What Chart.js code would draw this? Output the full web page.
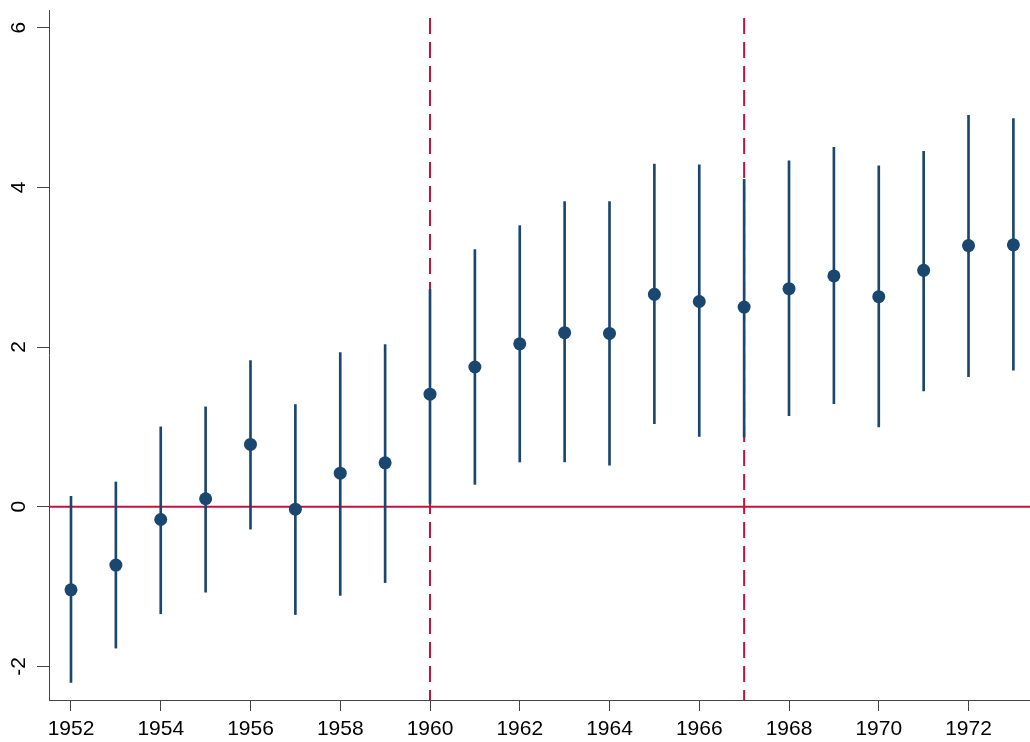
<!DOCTYPE html>
<html>
<head>
<meta charset="utf-8">
<script src="https://cdn.jsdelivr.net/npm/chart.js@4/dist/chart.umd.min.js"></script>
<style>
  html, body { margin: 0; padding: 0; background: #ffffff; }
  #wrap { width: 1030px; height: 742px; }
</style>
</head>
<body>
<div id="wrap"><canvas id="chart"></canvas></div>
<script>
// Event-study style estimates with confidence intervals

const years = [1952, 1953, 1954, 1955, 1956, 1957, 1958, 1959, 1960, 1961, 1962,
               1963, 1964, 1965, 1966, 1967, 1968, 1969, 1970, 1971, 1972, 1973];
const estimates = [-1.04, -0.73, -0.16, 0.10, 0.78, -0.03, 0.42, 0.55, 1.41, 1.75, 2.04,
                   2.18, 2.17, 2.66, 2.57, 2.50, 2.73, 2.89, 2.63, 2.96, 3.27, 3.28];
const ciLow = [-2.20, -1.77, -1.34, -1.07, -0.28, -1.35, -1.11, -0.95, 0.04, 0.28, 0.56,
               0.56, 0.52, 1.04, 0.88, 0.87, 1.14, 1.29, 1.00, 1.45, 1.63, 1.71];
const ciHigh = [0.13, 0.31, 1.00, 1.25, 1.83, 1.28, 1.93, 2.03, 2.72, 3.22, 3.52,
                3.82, 3.82, 4.29, 4.28, 4.10, 4.33, 4.50, 4.27, 4.45, 4.90, 4.86];

const xTicks = [1952, 1954, 1956, 1958, 1960, 1962, 1964, 1966, 1968, 1970, 1972];
const yTicks = [-2, 0, 2, 4, 6];
const eventYears = [1960, 1967];

const xMin = 1951.51, xMax = 1973.37;
const yMin = -2.42, yMax = 6.22;

const navy = '#1a476f';
const red = '#c8103e';
const axisColor = '#444444';
const fontFamily = "'Liberation Sans', Arial, sans-serif";

// Reference lines
const refDatasets = [{
    type: 'line',
    data: [{ x: xMin, y: 0 }, { x: xMax, y: 0 }],
    borderColor: red,
    borderWidth: 2,
    pointRadius: 0,
    order: 3
}];
eventYears.forEach(yr => {
    refDatasets.push({
        type: 'line',
        data: [{ x: yr, y: yMax }, { x: yr, y: yMin }],
        borderColor: red,
        borderWidth: 2,
        borderDash: [16, 8],
        borderDashOffset: 16,
        pointRadius: 0,
        order: 3
    });
});

const ctx = document.getElementById('chart');
new Chart(ctx, {
    type: 'scatter',
    data: {
        datasets: [
            {
                type: 'scatter',
                data: years.map((yr, i) => ({ x: yr, y: estimates[i] })),
                backgroundColor: navy,
                borderWidth: 0,
                pointRadius: 6.5,
                order: 1
            },
            {
                type: 'bar',
                data: years.map((yr, i) => ({ x: yr, y: [ciLow[i], ciHigh[i]] })),
                backgroundColor: navy,
                barThickness: 2,
                grouped: false,
                borderWidth: 0,
                order: 2
            },
            ...refDatasets
        ]
    },
    options: {
        responsive: true,
        maintainAspectRatio: false,
        animation: false,
        layout: {
            autoPadding: false,
            padding: { top: 10, right: 0, bottom: 0, left: 0 }
        },
        plugins: {
            legend: { display: false },
            tooltip: { enabled: false },
            title: { display: false }
        },
        scales: {
            x: {
                type: 'linear',
                min: xMin,
                max: xMax,
                offset: false,
                afterBuildTicks: scale => {
                    scale.ticks = xTicks.map(v => ({ value: v }));
                },
                afterFit: scale => {
                    scale.height = 42;
                    scale.paddingLeft = 0;
                    scale.paddingRight = 0;
                },
                ticks: {
                    color: '#000000',
                    padding: 6,
                    maxRotation: 0,
                    autoSkip: false,
                    font: { family: fontFamily, size: 21 },
                    callback: v => String(v)
                },
                grid: {
                    display: true,
                    offset: false,
                    drawOnChartArea: false,
                    drawTicks: true,
                    tickLength: 11,
                    color: axisColor,
                    lineWidth: 1
                },
                border: {
                    display: true,
                    color: axisColor,
                    width: 1
                }
            },
            y: {
                type: 'linear',
                min: yMin,
                max: yMax,
                afterBuildTicks: scale => {
                    scale.ticks = yTicks.map(v => ({ value: v }));
                },
                afterFit: scale => {
                    scale.width = 49;
                    scale.paddingTop = 0;
                    scale.paddingBottom = 0;
                },
                ticks: {
                    color: '#000000',
                    padding: 8,
                    minRotation: 90,
                    maxRotation: 90,
                    crossAlign: 'center',
                    font: { family: fontFamily, size: 21 },
                    callback: v => String(v)
                },
                grid: {
                    display: true,
                    drawOnChartArea: false,
                    drawTicks: true,
                    tickLength: 12,
                    color: axisColor,
                    lineWidth: 1
                },
                border: {
                    display: true,
                    color: axisColor,
                    width: 1
                }
            }
        }
    }
});
</script>
</body>
</html>
